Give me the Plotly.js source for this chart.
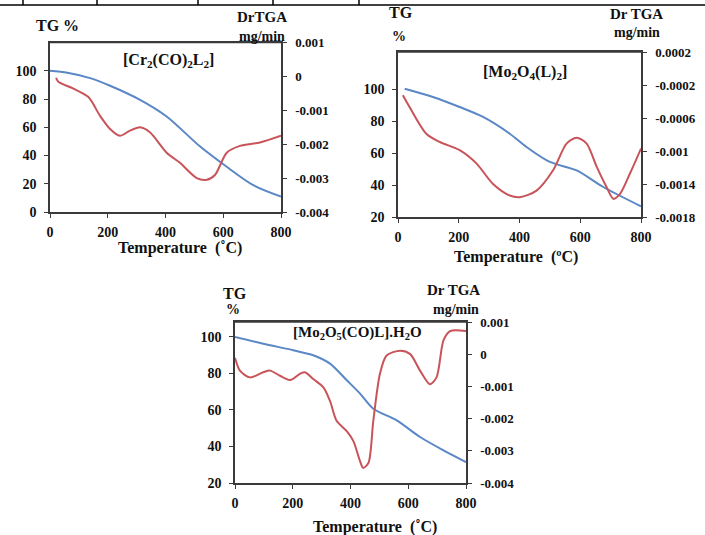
<!DOCTYPE html>
<html><head><meta charset="utf-8">
<script src="https://cdn.plot.ly/plotly-3.0.1.min.js"></script>
<style>html,body{margin:0;padding:0;background:#fff}#c{width:705px;height:535px}</style>
</head><body><div id="c"></div>
<script>
// Panel 1: [Cr2(CO)2L2]
const T1_tg = [0, 60, 139, 208, 312, 404, 520, 612, 704, 800];
const TG1 = [100, 98.6, 94.8, 89.4, 79.4, 67.6, 46.3, 32, 19, 10.9];
const T1_dtg = [21, 29, 81, 133, 173, 208, 242, 277, 312, 346, 404, 450, 508, 543, 572, 612, 658, 727, 800];
const DTG1 = [-0.00004, -0.00016, -0.00036, -0.00061, -0.00116, -0.00155, -0.00175, -0.0016, -0.0015, -0.00165, -0.00225, -0.00255, -0.003, -0.00305, -0.0029, -0.00225, -0.00205, -0.00195, -0.00175];
// Panel 2: [Mo2O4(L)2]
const T2_tg = [22, 115, 203, 280, 368, 423, 500, 588, 676, 800];
const TG2 = [100.4, 95.2, 88.9, 82.7, 72.2, 63.9, 54.5, 49.2, 38.8, 26.7];
const T2_dtg = [16, 38, 93, 137, 203, 258, 313, 368, 401, 456, 511, 555, 588, 621, 654, 687, 709, 731, 764, 800];
const DTG2 = [-0.000325, -0.000467, -0.00079, -0.00089, -0.00099, -0.00115, -0.0014, -0.00154, -0.00156, -0.00148, -0.00123, -0.00091, -0.00084, -0.00091, -0.00119, -0.00144, -0.00158, -0.00152, -0.00127, -0.00097];
// Panel 3: [Mo2O5(CO)L].H2O
const T3_tg = [0, 98, 202, 271, 329, 387, 433, 479, 560, 641, 722, 800];
const TG3 = [100, 96.3, 92.7, 90, 85.4, 76.3, 69, 60.7, 54.3, 45.2, 37.9, 31.5];
const T3_dtg = [0, 17, 52, 98, 121, 156, 191, 225, 242, 271, 306, 329, 352, 387, 410, 433, 444, 462, 479, 502, 525, 572, 606, 641, 675, 698, 722, 745, 800];
const DTG3 = [-0.00011, -0.00051, -0.00072, -0.00056, -0.00051, -0.00067, -0.0008, -0.00061, -0.00056, -0.00077, -0.00103, -0.00145, -0.00207, -0.00239, -0.0027, -0.00332, -0.00353, -0.00338, -0.00207, -0.00061, -0.00004, 0.00011, 0.00001, -0.00051, -0.00093, -0.00072, 0.00043, 0.00072, 0.00072];

// Tick labels
const xTicks = [0, 200, 400, 600, 800];
const xTickText = ['0', '200', '400', '600', '800'];
const y1Ticks = [0, 20, 40, 60, 80, 100];
const y1TickText = ['0', '20', '40', '60', '80', '100'];
const y13Ticks = [20, 40, 60, 80, 100];
const y13TickText = ['20', '40', '60', '80', '100'];
const r1Ticks = [0.001, 0, -0.001, -0.002, -0.003, -0.004];
const r1TickText = ['0.001', '0', '-0.001', '-0.002', '-0.003', '-0.004'];
const r2Ticks = [0.0002, -0.0002, -0.0006, -0.001, -0.0014, -0.0018];
const r2TickText = ['0.0002', '-0.0002', '-0.0006', '-0.001', '-0.0014', '-0.0018'];

const W = 705, H = 535;
const px = v => v / W, py = v => 1 - v / H;
const BLUE = '#5a87c5', RED = '#c8545a', AX = '#3a3a3a';
const FF = 'Liberation Serif';
const tf = {family: FF, size: 14, color: '#111', weight: 'bold'};
const tfr = {family: FF, size: 13, color: '#111', weight: 'bold'};

function xa(dom, anchor) {
  return {domain: dom, anchor: anchor, range: [0, 800], tickvals: xTicks, ticktext: xTickText,
    showline: true, linecolor: AX, linewidth: 1.6, mirror: true, ticks: 'outside', ticklen: 4,
    tickcolor: AX, showgrid: false, zeroline: false, tickfont: tf, ticklabelstandoff: 3, fixedrange: true};
}
function ya(dom, anchor, range, tv, tt) {
  return {domain: dom, anchor: anchor, range: range, tickvals: tv, ticktext: tt,
    showline: true, linecolor: AX, linewidth: 1.6, ticks: 'outside', ticklen: 4, tickcolor: AX,
    showgrid: false, zeroline: false, tickfont: tf, ticklabelstandoff: 5};
}
function yr(anchor, overlay, range, tv, tt) {
  return {overlaying: overlay, anchor: anchor, side: 'right', range: range, tickvals: tv, ticktext: tt,
    showline: true, linecolor: AX, linewidth: 1.6, ticks: 'outside', ticklen: 4, tickcolor: AX,
    showgrid: false, zeroline: false, tickfont: tfr, ticklabelstandoff: 6};
}

const line = (c) => ({color: c, width: 2, shape: 'spline', smoothing: 0.8});
const traces = [
  {x: T1_tg, y: TG1, xaxis: 'x', yaxis: 'y', mode: 'lines', line: line(BLUE)},
  {x: T1_dtg, y: DTG1, xaxis: 'x', yaxis: 'y2', mode: 'lines', line: line(RED)},
  {x: T2_tg, y: TG2, xaxis: 'x2', yaxis: 'y3', mode: 'lines', line: line(BLUE)},
  {x: T2_dtg, y: DTG2, xaxis: 'x2', yaxis: 'y4', mode: 'lines', line: line(RED)},
  {x: T3_tg, y: TG3, xaxis: 'x3', yaxis: 'y5', mode: 'lines', line: line(BLUE)},
  {x: T3_dtg, y: DTG3, xaxis: 'x3', yaxis: 'y6', mode: 'lines', line: line(RED)}
];

const d1x = [px(50), px(281)], d1y = [py(212), py(42.5)];
const d2x = [px(398), px(641)], d2y = [py(217), py(52)];
const d3x = [px(235), px(466)], d3y = [py(483), py(322)];

function ann(text, x, y, size) {
  return {text: text, x: px(x), y: py(y), xref: 'paper', yref: 'paper', showarrow: false,
    xanchor: 'center', yanchor: 'middle', font: {family: FF, size: size || 15, color: '#111', weight: 'bold'}};
}
function topLine(dx, dy) {
  return {type: 'line', xref: 'paper', yref: 'paper', x0: dx[0], x1: dx[1], y0: dy[1], y1: dy[1], line: {color: AX, width: 1.6}};
}

const layout = {
  width: W, height: H, margin: {l: 0, r: 0, t: 0, b: 0}, showlegend: false,
  paper_bgcolor: '#fff', plot_bgcolor: '#fff',
  xaxis: xa(d1x, 'y'), yaxis: ya(d1y, 'x', [0, 120], y1Ticks, y1TickText),
  yaxis2: yr('x', 'y', [-0.004, 0.001], r1Ticks, r1TickText),
  xaxis2: xa(d2x, 'y3'), yaxis3: ya(d2y, 'x2', [20, 123.4], y13Ticks, y13TickText),
  yaxis4: yr('x2', 'y3', [-0.0018, 0.0002], r2Ticks, r2TickText),
  xaxis3: xa(d3x, 'y5'), yaxis5: ya(d3y, 'x3', [20, 108.2], y13Ticks, y13TickText),
  yaxis6: yr('x3', 'y5', [-0.004, 0.001], r1Ticks, r1TickText),
  annotations: [
    ann('TG %', 58, 25, 16), ann('DrTGA', 262, 17, 15), ann('mg/min', 262, 37, 14),
    ann('[Cr<sub>2</sub>(CO)<sub>2</sub>L<sub>2</sub>]', 168, 60, 16), ann('Temperature  (˚C)', 180, 248, 16),
    ann('TG', 401, 12, 16), ann('%', 399, 37, 14), ann('Dr TGA', 636, 14, 15), ann('mg/min', 637, 33, 14),
    ann('[Mo<sub>2</sub>O<sub>4</sub>(L)<sub>2</sub>]', 525, 73, 16), ann('Temperature  (ºC)', 516, 257, 16),
    ann('TG', 235, 293, 16), ann('%', 233, 309, 14), ann('Dr TGA', 453, 290, 15), ann('mg/min', 456, 309, 14),
    ann('[Mo<sub>2</sub>O<sub>5</sub>(CO)L].H<sub>2</sub>O', 358, 333, 15), ann('Temperature  (˚C)', 375, 527, 16)
  ],
  shapes: [
    {type: 'line', xref: 'paper', yref: 'paper', x0: 0, x1: 1, y0: py(5), y1: py(5), line: {color: '#000', width: 1.5}},
    ...[23, 97, 198, 273, 359].map(v => ({type: 'line', xref: 'paper', yref: 'paper', x0: px(v), x1: px(v), y0: 1, y1: py(5), line: {color: '#000', width: 1.5}})),
    topLine(d1x, d1y), topLine(d2x, d2y), topLine(d3x, d3y)
  ]
};
Plotly.newPlot('c', traces, layout, {displayModeBar: false, staticPlot: true});
</script></body></html>
